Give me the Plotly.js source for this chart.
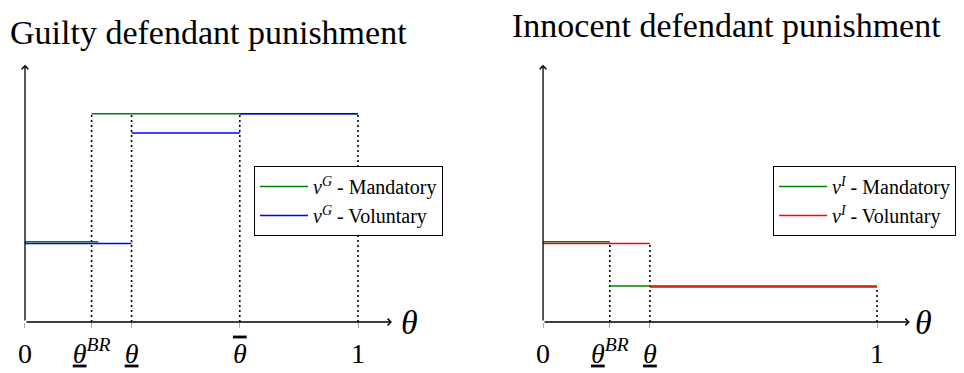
<!DOCTYPE html>
<html>
<head>
<meta charset="utf-8">
<script src="https://cdn.plot.ly/plotly-3.0.1.min.js"></script>
<style>
body{margin:0;padding:0;background:#fff;}
#chart{width:964px;height:373px;}
</style>
</head>
<body>
<div id="chart"></div>
<script>
// ---- data ----
const thetaBR = 0.2;      // underline-theta ^ BR
const thetaLow = 0.32;    // underline theta
const thetaBar = 0.645;   // theta bar

const guiltyTickVals = [0, thetaBR, thetaLow, thetaBar, 1];
const guiltyTickText = ['0', '<span style="text-decoration:underline"><i>θ</i></span><sup><i>BR</i></sup>', '<span style="text-decoration:underline"><i>θ</i></span>', '<span style="text-decoration:overline"><i>θ</i></span>', '1'];
const innocentTickVals = [0, thetaBR, thetaLow, 1];
const innocentTickText = ['0', '<span style="text-decoration:underline"><i>θ</i></span><sup><i>BR</i></sup>', '<span style="text-decoration:underline"><i>θ</i></span>', '1'];

// guilty: mandatory (green) and voluntary (blue)
const guiltyMandX = [0, 0.22, null, thetaBR, 1];
const guiltyMandY = [0.312, 0.312, null, 0.81, 0.81];
const guiltyVolX  = [0, thetaLow, null, thetaLow, thetaBar, null, thetaBar, 1];
const guiltyVolY  = [0.305, 0.305, null, 0.735, 0.735, null, 0.81, 0.81];
const guiltyDotX  = [thetaBR, thetaBR, null, thetaLow, thetaLow, null, thetaBar, thetaBar, null, 1, 1];
const guiltyDotY  = [0, 0.81, null, 0, 0.81, null, 0, 0.81, null, 0, 0.81];

// innocent: mandatory (green) and voluntary (red)
const innoMandX = [0, thetaBR, null, thetaBR, 1];
const innoMandY = [0.312, 0.312, null, 0.14, 0.14];
const innoVolX  = [0, thetaLow, null, thetaLow, 1];
const innoVolY  = [0.305, 0.305, null, 0.136, 0.136];
const innoDotX  = [thetaBR, thetaBR, null, thetaLow, thetaLow, null, 1, 1];
const innoDotY  = [0, 0.312, null, 0, 0.305, null, 0, 0.136];

const legendNames = {
  gm: '<i>v</i><sup><i>G</i></sup> - Mandatory',
  gv: '<i>v</i><sup><i>G</i></sup> - Voluntary',
  im: '<i>v</i><sup><i>I</i></sup> - Mandatory',
  iv: '<i>v</i><sup><i>I</i></sup> - Voluntary'
};

const GREEN = 'rgb(0,128,0)', BLUE = 'rgb(0,0,255)', RED = 'rgb(255,0,0)';
const SERIF = 'Liberation Serif';
const dotLine = {color: 'black', width: 1.6, dash: '2px,3px'};

const traces = [
  {x: guiltyDotX, y: guiltyDotY, xaxis: 'x', yaxis: 'y', mode: 'lines', line: dotLine, showlegend: false, hoverinfo: 'skip'},
  {x: guiltyMandX, y: guiltyMandY, xaxis: 'x', yaxis: 'y', mode: 'lines', name: legendNames.gm, line: {color: GREEN, width: 1.6}, legend: 'legend'},
  {x: guiltyVolX, y: guiltyVolY, xaxis: 'x', yaxis: 'y', mode: 'lines', name: legendNames.gv, line: {color: BLUE, width: 1.6}, legend: 'legend'},
  {x: innoDotX, y: innoDotY, xaxis: 'x2', yaxis: 'y2', mode: 'lines', line: dotLine, showlegend: false, hoverinfo: 'skip'},
  {x: innoMandX, y: innoMandY, xaxis: 'x2', yaxis: 'y2', mode: 'lines', name: legendNames.im, line: {color: GREEN, width: 1.6}, legend: 'legend2'},
  {x: innoVolX, y: innoVolY, xaxis: 'x2', yaxis: 'y2', mode: 'lines', name: legendNames.iv, line: {color: RED, width: 1.6}, legend: 'legend2'}
];

const W = 964, H = 373;
function px(p){ return p / W; }
function py(p){ return (H - p) / H; }

const xCommon = {
  range: [-0.06, 1.2], showgrid: false, zeroline: false, showline: false,
  ticks: 'outside', ticklen: 5, tickcolor: '#aaa', tickwidth: 1,
  tickfont: {family: SERIF, size: 28, color: 'black'},
  ticklabelstandoff: 1, automargin: false, fixedrange: true
};
const yCommon = {
  range: [0, 1.05], domain: [py(322), py(52)], showgrid: false, zeroline: false,
  showline: false, showticklabels: false, ticks: '', automargin: false, fixedrange: true
};

function arrow(xref, yref, x0, y0, x1, y1){
  return {xref: xref, yref: yref, axref: xref, ayref: yref, x: x1, y: y1, ax: x0, ay: y0,
    text: '', showarrow: true, arrowhead: 4, arrowsize: 1, arrowwidth: 1.3, arrowcolor: 'black', standoff: 0, startstandoff: 0};
}

const legendCommon = {xanchor: 'left', yanchor: 'top', bgcolor: 'white', bordercolor: 'black', borderwidth: 1,
  font: {family: SERIF, size: 20, color: 'black'}, tracegroupgap: 0, itemwidth: 48};

const layout = {
  width: W, height: H,
  margin: {l: 0, r: 0, t: 0, b: 0},
  font: {family: SERIF, color: 'black'},
  paper_bgcolor: 'white', plot_bgcolor: 'white',
  xaxis: Object.assign({}, xCommon, {domain: [px(5), px(424.6)], anchor: 'y', tickvals: guiltyTickVals, ticktext: guiltyTickText}),
  yaxis: Object.assign({}, yCommon, {anchor: 'x'}),
  xaxis2: Object.assign({}, xCommon, {domain: [px(523), px(943.8)], anchor: 'y2', tickvals: innocentTickVals, ticktext: innocentTickText}),
  yaxis2: Object.assign({}, yCommon, {anchor: 'x2'}),
  legend: Object.assign({}, legendCommon, {x: px(254), y: py(166)}),
  legend2: Object.assign({}, legendCommon, {x: px(773), y: py(166)}),
  annotations: [
    arrow('x', 'y', 0, 0, 1.102, 0),
    arrow('x', 'y', 0, 0, 0, 1.0),
    arrow('x2', 'y2', 0, 0, 1.098, 0),
    arrow('x2', 'y2', 0, 0, 0, 1.0),
    {xref: 'x', yref: 'y', x: 1.156, y: 0, text: '<i>θ</i>', showarrow: false, font: {family: SERIF, size: 34, color: 'black'}, xanchor: 'center', yanchor: 'middle'},
    {xref: 'x2', yref: 'y2', x: 1.14, y: 0, text: '<i>θ</i>', showarrow: false, font: {family: SERIF, size: 34, color: 'black'}, xanchor: 'center', yanchor: 'middle'},
    {xref: 'paper', yref: 'paper', x: px(8), y: py(33), text: 'Guilty defendant punishment', showarrow: false, xanchor: 'left', yanchor: 'middle', font: {family: SERIF, size: 34, color: 'black'}},
    {xref: 'paper', yref: 'paper', x: px(510), y: py(25), text: 'Innocent defendant punishment', showarrow: false, xanchor: 'left', yanchor: 'middle', font: {family: SERIF, size: 34, color: 'black'}}
  ]
};

Plotly.newPlot('chart', traces, layout, {displayModeBar: false, staticPlot: true});
</script>
</body>
</html>
